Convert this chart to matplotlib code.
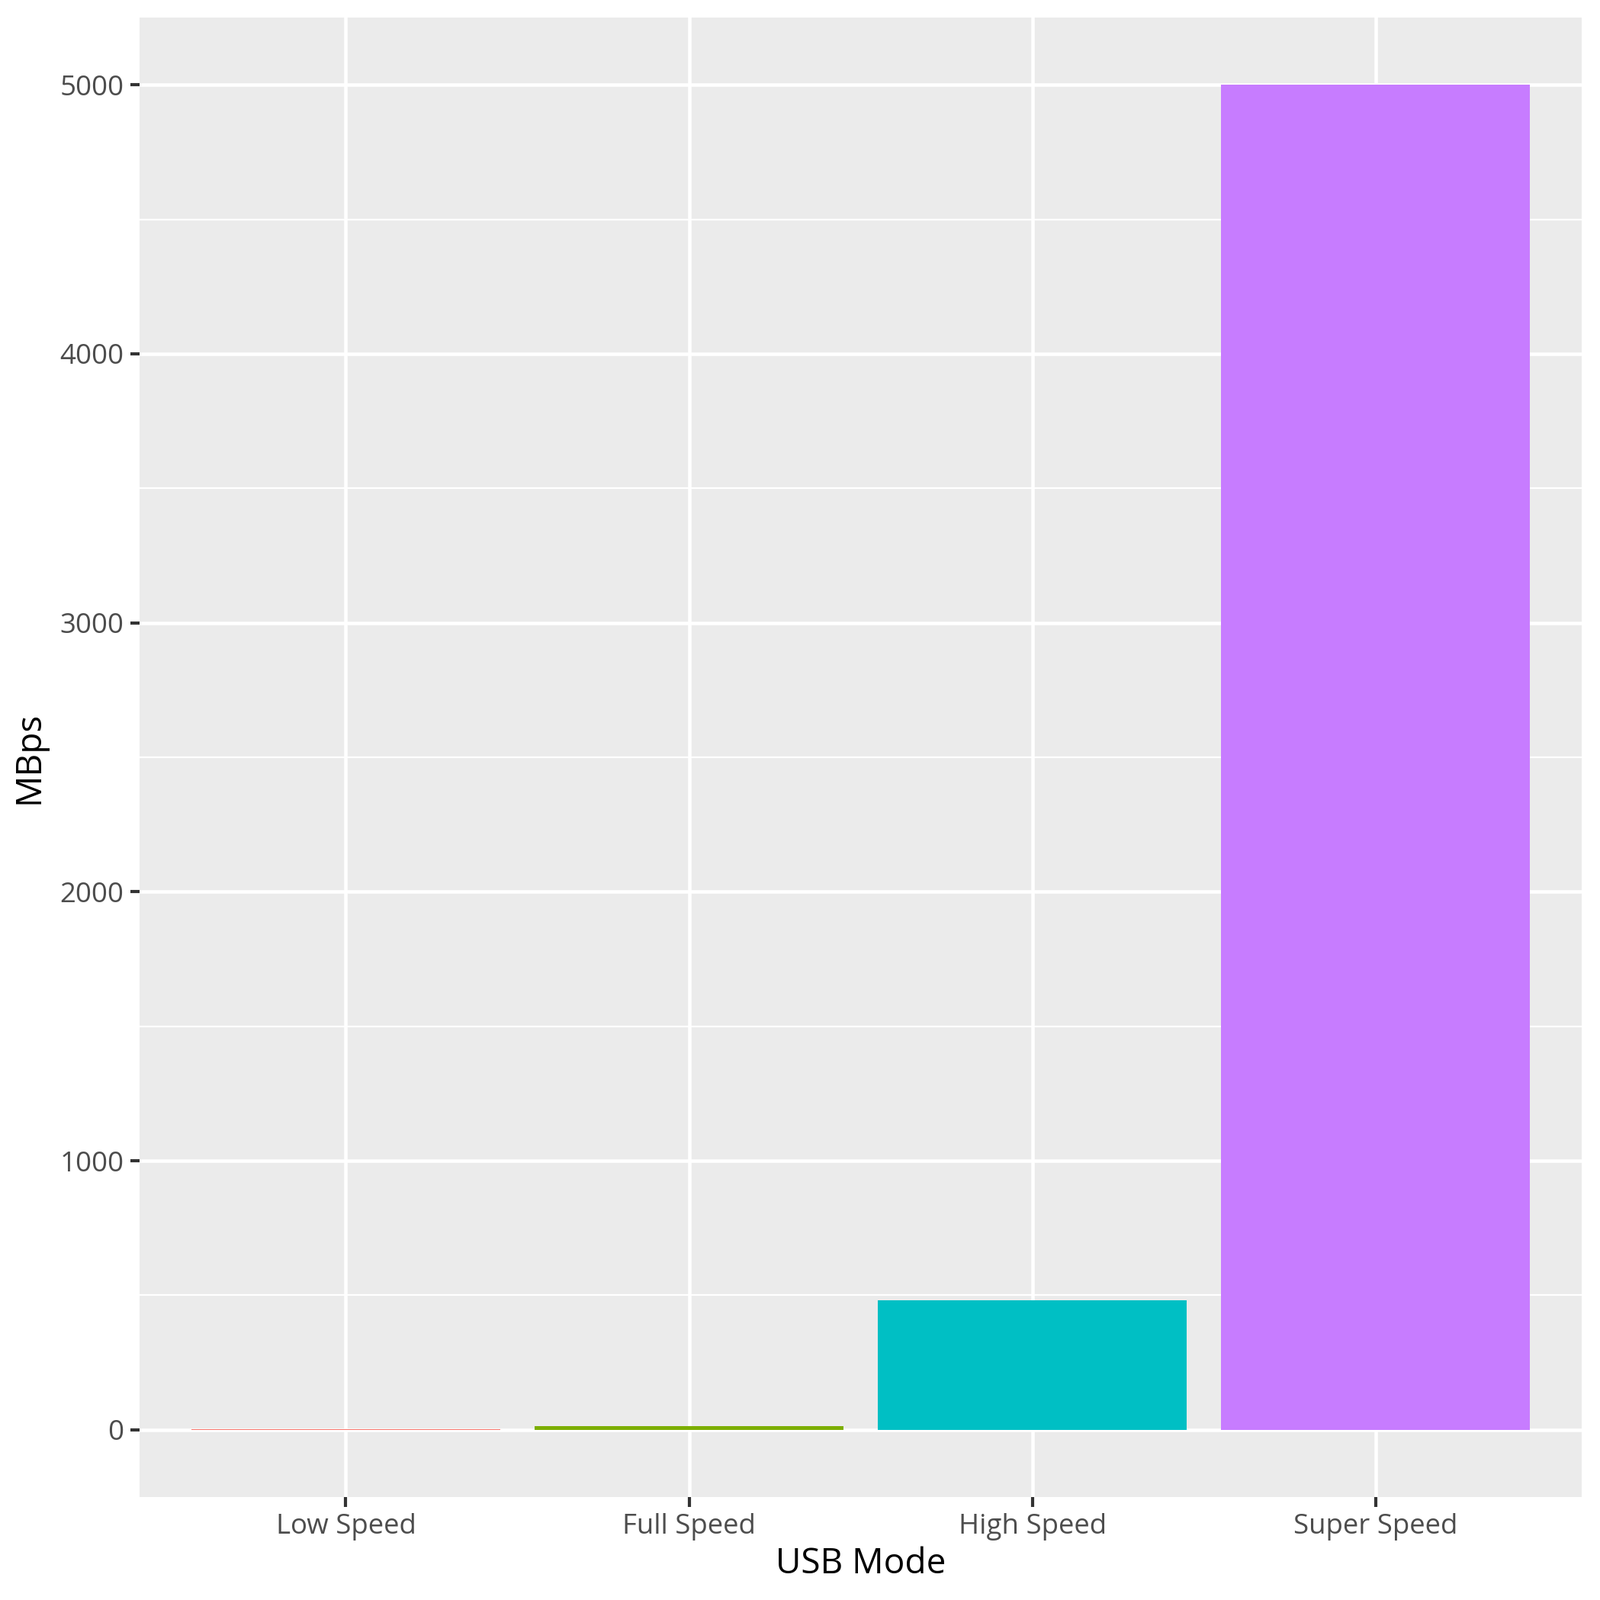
import matplotlib
matplotlib.use("Agg")
import matplotlib.pyplot as plt
import numpy as np

plt.rcParams["font.family"] = "Open Sans"

modes = ["Low Speed", "Full Speed", "High Speed", "Super Speed"]
mbps = [1.5, 12, 480, 5000]
colors = ["#F8766D", "#7CAE00", "#00BFC4", "#C77CFF"]

fig = plt.figure(figsize=(2098 / 300, 2098 / 300), dpi=300)
ax = fig.add_axes([0.0874, 0.0644, 0.9011, 0.9246])
ax.set_facecolor("#EBEBEB")

x = np.arange(len(modes))
ax.bar(x, mbps, width=0.9, color=colors, zorder=3)

ax.set_xlim(-0.6, 3.6)
ax.set_ylim(-250, 5250)
ax.set_yticks([0, 1000, 2000, 3000, 4000, 5000])
ax.set_yticks([500, 1500, 2500, 3500, 4500], minor=True)
ax.set_xticks(x)
ax.set_xticklabels(modes)

ax.grid(True, which="major", color="white", linewidth=1.1, zorder=0)
ax.grid(True, which="minor", axis="y", color="white", linewidth=0.55, zorder=0)
ax.tick_params(which="major", length=3, width=1, color="#333333",
               labelcolor="#4D4D4D", labelsize=8.8, pad=2)
ax.tick_params(which="minor", length=0)
for s in ax.spines.values():
    s.set_visible(False)

ax.set_xlabel("USB Mode", fontsize=11, labelpad=2)
ax.set_ylabel("MBps", fontsize=11, labelpad=4)

fig.savefig("out.png", dpi=300, facecolor="white")
